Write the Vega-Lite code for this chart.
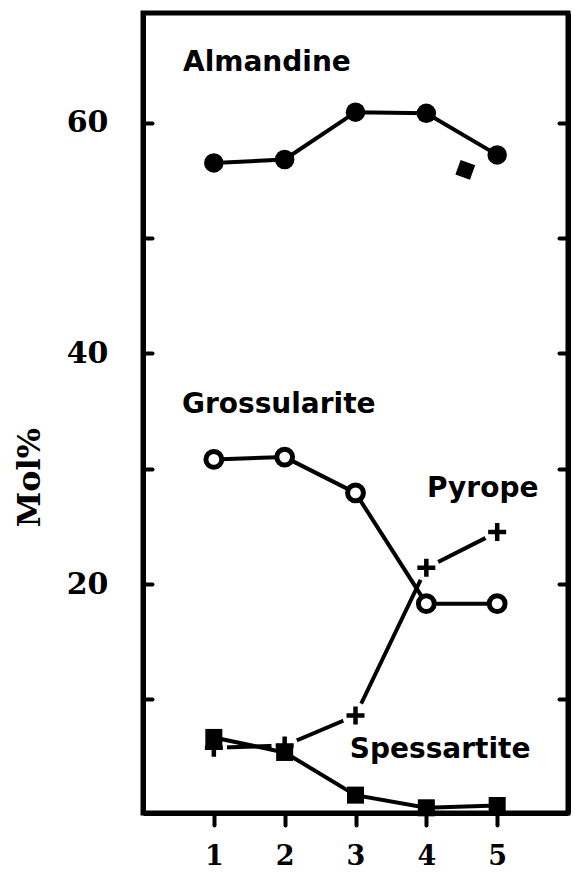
{
  "$schema": "https://vega.github.io/schema/vega-lite/v6.json",
  "width": 425,
  "height": 800,
  "autosize": {"type": "none"},
  "padding": {"left": 143, "top": 13, "right": 11, "bottom": 61},
  "background": "white",
  "config": {
    "view": {"stroke": "black", "strokeWidth": 5},
    "axis": {"zindex": 1}
  },
  "datasets": {
    "pts": [
      {"series": "Almandine", "x": 1, "y": 56.5},
      {"series": "Almandine", "x": 2, "y": 56.8},
      {"series": "Almandine", "x": 3, "y": 60.9},
      {"series": "Almandine", "x": 4, "y": 60.8},
      {"series": "Almandine", "x": 5, "y": 57.2},
      {"series": "Grossularite", "x": 1, "y": 30.8},
      {"series": "Grossularite", "x": 2, "y": 31.0},
      {"series": "Grossularite", "x": 3, "y": 27.9},
      {"series": "Grossularite", "x": 4, "y": 18.3},
      {"series": "Grossularite", "x": 5, "y": 18.3},
      {"series": "Pyrope", "x": 1, "y": 5.8},
      {"series": "Pyrope", "x": 2, "y": 6.0},
      {"series": "Pyrope", "x": 3, "y": 8.6},
      {"series": "Pyrope", "x": 4, "y": 21.4},
      {"series": "Pyrope", "x": 5, "y": 24.5},
      {"series": "Spessartite", "x": 1, "y": 6.7},
      {"series": "Spessartite", "x": 2, "y": 5.4},
      {"series": "Spessartite", "x": 3, "y": 1.7},
      {"series": "Spessartite", "x": 4, "y": 0.6},
      {"series": "Spessartite", "x": 5, "y": 0.8},
      {"series": "Extra", "x": 4.55, "y": 55.9}
    ],
    "labels": [
      {"text": "Almandine", "x": 0.565, "y": 64.5},
      {"text": "Grossularite", "x": 0.55, "y": 34.8},
      {"text": "Pyrope", "x": 4.01, "y": 27.5},
      {"text": "Spessartite", "x": 2.92, "y": 4.9}
    ]
  },
  "encoding": {
    "x": {
      "field": "x", "type": "quantitative",
      "scale": {"domain": [0, 6], "nice": false, "zero": false},
      "axis": {
        "values": [1, 2, 3, 4, 5], "title": null, "grid": false,
        "domainColor": "black", "domainWidth": 5,
        "tickColor": "black", "tickSize": 12, "tickWidth": 4, "tickCap": "round",
        "labelFont": "DejaVu Serif", "labelFontWeight": "bold", "labelFontSize": 27,
        "labelColor": "black", "labelPadding": 18
      }
    }
  },
  "resolve": {"axis": {"y": "independent"}},
  "layer": [
    {
      "data": {"name": "pts"},
      "transform": [{"filter": "datum.series === 'Pyrope'"}],
      "mark": {"type": "circle", "color": "#ffffff", "opacity": 1, "size": 700},
      "encoding": {
        "y": {
          "field": "y", "type": "quantitative",
          "scale": {"domain": [0.15, 69.5], "nice": false, "zero": false},
          "axis": null
        }
      }
    },
    {
      "data": {"name": "pts"},
      "transform": [{"filter": "datum.series === 'Pyrope'"}],
      "mark": {"type": "line", "color": "black", "strokeWidth": 4},
      "encoding": {"y": {"field": "y", "type": "quantitative", "axis": null}}
    },
    {
      "data": {"name": "pts"},
      "transform": [{"filter": "datum.series === 'Pyrope'"}],
      "mark": {"type": "circle", "color": "#ffffff", "opacity": 1, "size": 700},
      "encoding": {"y": {"field": "y", "type": "quantitative", "axis": null}}
    },
    {
      "data": {"name": "pts"},
      "transform": [{"filter": "datum.series === 'Pyrope'"}],
      "mark": {"type": "point", "shape": "M-1,0H1M0,-1V1", "filled": false, "color": "black", "opacity": 1, "strokeWidth": 4.5, "size": 324},
      "encoding": {"y": {"field": "y", "type": "quantitative", "axis": null}}
    },
    {
      "data": {"name": "pts"},
      "transform": [{"filter": "datum.series === 'Almandine'"}],
      "mark": {"type": "line", "color": "black", "strokeWidth": 4},
      "encoding": {"y": {"field": "y", "type": "quantitative", "axis": null}}
    },
    {
      "data": {"name": "pts"},
      "transform": [{"filter": "datum.series === 'Almandine'"}],
      "mark": {"type": "point", "shape": "circle", "filled": true, "color": "black", "opacity": 1, "size": 380},
      "encoding": {"y": {"field": "y", "type": "quantitative", "axis": null}}
    },
    {
      "data": {"name": "pts"},
      "transform": [{"filter": "datum.series === 'Grossularite'"}],
      "mark": {"type": "line", "color": "black", "strokeWidth": 4},
      "encoding": {"y": {"field": "y", "type": "quantitative", "axis": null}}
    },
    {
      "data": {"name": "pts"},
      "transform": [{"filter": "datum.series === 'Grossularite'"}],
      "mark": {"type": "point", "shape": "circle", "filled": true, "fill": "white", "stroke": "black", "strokeWidth": 5, "opacity": 1, "size": 250},
      "encoding": {"y": {"field": "y", "type": "quantitative", "axis": null}}
    },
    {
      "data": {"name": "pts"},
      "transform": [{"filter": "datum.series === 'Spessartite'"}],
      "mark": {"type": "line", "color": "black", "strokeWidth": 4},
      "encoding": {"y": {"field": "y", "type": "quantitative", "axis": null}}
    },
    {
      "data": {"name": "pts"},
      "transform": [{"filter": "datum.series === 'Spessartite'"}],
      "mark": {"type": "point", "shape": "square", "filled": true, "color": "black", "opacity": 1, "size": 290},
      "encoding": {
        "y": {
          "field": "y", "type": "quantitative",
          "axis": {
            "orient": "right", "values": [10, 20, 30, 40, 50, 60],
            "labels": false, "title": null, "grid": false,
            "domainColor": "black", "domainWidth": 5,
            "tickColor": "black", "tickSize": -9, "tickWidth": 4, "tickCap": "round"
          }
        }
      }
    },
    {
      "data": {"name": "pts"},
      "transform": [{"filter": "datum.series === 'Extra'"}],
      "mark": {"type": "point", "shape": "diamond", "filled": true, "color": "black", "opacity": 1, "size": 480, "angle": -25},
      "encoding": {"y": {"field": "y", "type": "quantitative", "axis": null}}
    },
    {
      "data": {"name": "labels"},
      "mark": {"type": "text", "font": "DejaVu Sans", "fontWeight": "bold", "fontSize": 28, "align": "left", "baseline": "alphabetic", "color": "black"},
      "encoding": {
        "y": {
          "field": "y", "type": "quantitative",
          "axis": {
            "values": [10, 20, 30, 40, 50, 60],
            "labelExpr": "datum.value % 20 === 0 ? datum.label : ''",
            "grid": false, "domainColor": "black", "domainWidth": 5,
            "tickColor": "black", "tickSize": -9, "tickWidth": 4, "tickCap": "round",
            "labelFont": "DejaVu Serif", "labelFontWeight": "bold", "labelFontSize": 30,
            "labelColor": "black", "labelPadding": 44,
            "title": "Mol%", "titleFont": "DejaVu Serif", "titleFontWeight": "bold",
            "titleFontSize": 32, "titleColor": "black", "titleAngle": -90,
            "titleX": -114, "titleY": 464, "titleAlign": "center", "titleBaseline": "middle"
          }
        },
        "text": {"field": "text"}
      }
    }
  ]
}
